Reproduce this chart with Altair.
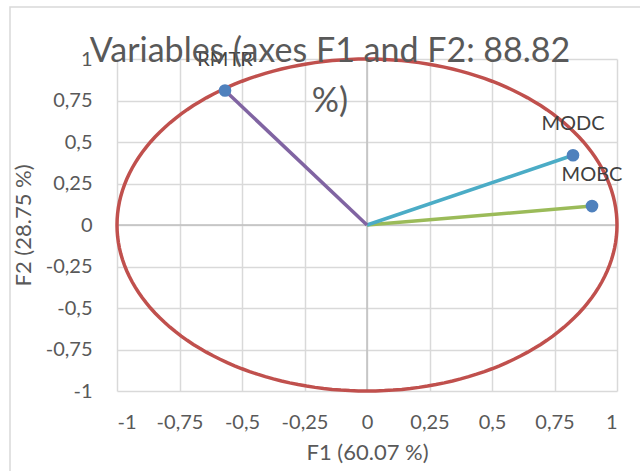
import altair as alt
import pandas as pd

# Correlations of each variable with the first two factors
variables = ["MOBC", "MODC", "RMTR"]
f1_loadings = [0.900, 0.824, -0.568]
f2_loadings = [0.114, 0.420, 0.810]
vector_colors = ["#9BBB59", "#4BACC6", "#8064A2"]

tick_values = [-1, -0.75, -0.5, -0.25, 0, 0.25, 0.5, 0.75, 1]

title_lines = ["Variables (axes F1 and F2: 88.82", "%)"]
x_title = "F1 (60.07 %)"
y_title = "F2 (28.75 %)"

FONT = "Lato"
GREY_TEXT = "#595959"

df = pd.DataFrame({"var": variables, "f1": f1_loadings, "f2": f2_loadings})
df["x0"] = 0.0
df["y0"] = 0.0

label_expr = "replace(toString(datum.value), '.', ',')"

x_scale = alt.Scale(domain=[-1, 1], nice=False, zero=False)
y_scale = alt.Scale(domain=[-1, 1], nice=False, zero=False)

x_axis = alt.Axis(
    values=tick_values, labelExpr=label_expr, title=x_title,
    grid=True, gridColor="#D9D9D9", gridWidth=1.5,
    domain=False, ticks=False, labelPadding=21, titlePadding=10,
    labelFont=FONT, labelFontSize=20, labelColor=GREY_TEXT,
    titleFont=FONT, titleFontSize=22, titleColor=GREY_TEXT, titleFontWeight="normal",
)
y_axis = alt.Axis(
    values=tick_values, labelExpr=label_expr, title=y_title,
    grid=True, gridColor="#D9D9D9", gridWidth=1.5,
    domain=False, ticks=False, labelPadding=25, titlePadding=10,
    labelFont=FONT, labelFontSize=20, labelColor=GREY_TEXT,
    titleFont=FONT, titleFontSize=22, titleColor=GREY_TEXT, titleFontWeight="normal",
)

# Outer chart frame
frame = alt.Chart(pd.DataFrame({"k": [0]})).mark_rect(
    fill=None, stroke="#D9D9D9", strokeWidth=1.5
).encode(
    x=alt.value(-107), x2=alt.value(700), y=alt.value(-52), y2=alt.value(600)
)

base_axes = alt.Chart(df).mark_point(opacity=0).encode(
    x=alt.X("f1:Q", scale=x_scale, axis=x_axis),
    y=alt.Y("f2:Q", scale=y_scale, axis=y_axis),
)

zero_df = pd.DataFrame({"z": [0.0]})
zero_v = alt.Chart(zero_df).mark_rule(color="#BFBFBF", strokeWidth=1.5).encode(
    x=alt.X("z:Q", scale=x_scale)
)
zero_h = alt.Chart(zero_df).mark_rule(color="#BFBFBF", strokeWidth=1.5).encode(
    y=alt.Y("z:Q", scale=y_scale)
)

# Unit correlation circle
circle = alt.Chart(alt.sequence(0, 362, 2, as_="deg")).transform_calculate(
    cx="cos(datum.deg * PI / 180)", cy="sin(datum.deg * PI / 180)"
).mark_line(color="#C0504D", strokeWidth=3.5).encode(
    x=alt.X("cx:Q", scale=x_scale),
    y=alt.Y("cy:Q", scale=y_scale),
    order="deg:Q",
)

color_scale = alt.Scale(domain=variables, range=vector_colors)

vectors = alt.Chart(df).mark_rule(strokeWidth=3.5).encode(
    x=alt.X("x0:Q", scale=x_scale),
    y=alt.Y("y0:Q", scale=y_scale),
    x2="f1:Q",
    y2="f2:Q",
    color=alt.Color("var:N", scale=color_scale, legend=None),
)

points = alt.Chart(df).mark_circle(size=160, color="#4F81BD", opacity=1).encode(
    x=alt.X("f1:Q", scale=x_scale),
    y=alt.Y("f2:Q", scale=y_scale),
)

labels = alt.Chart(df).mark_text(
    font=FONT, fontSize=20, color="#404040", baseline="alphabetic", dy=-25
).encode(
    x=alt.X("f1:Q", scale=x_scale),
    y=alt.Y("f2:Q", scale=y_scale),
    text="var:N",
)

chart = alt.layer(
    frame, base_axes, zero_v, zero_h, circle, vectors, points, labels
).properties(
    width=500,
    height=332,
    padding={"left": 117, "top": 59, "right": 23, "bottom": 80},
    autosize=alt.AutoSizeParams(type="none"),
    background="white",
    title=alt.TitleParams(
        text=title_lines, font=FONT, fontSize=34, fontWeight="normal",
        color=GREY_TEXT, anchor="middle", frame="group",
        baseline="alphabetic", lineHeight=50, dx=-37, dy=140, offset=0,
    ),
).configure_view(stroke=None)

chart.save("out.html", embed_options={"renderer": "svg", "actions": False})
